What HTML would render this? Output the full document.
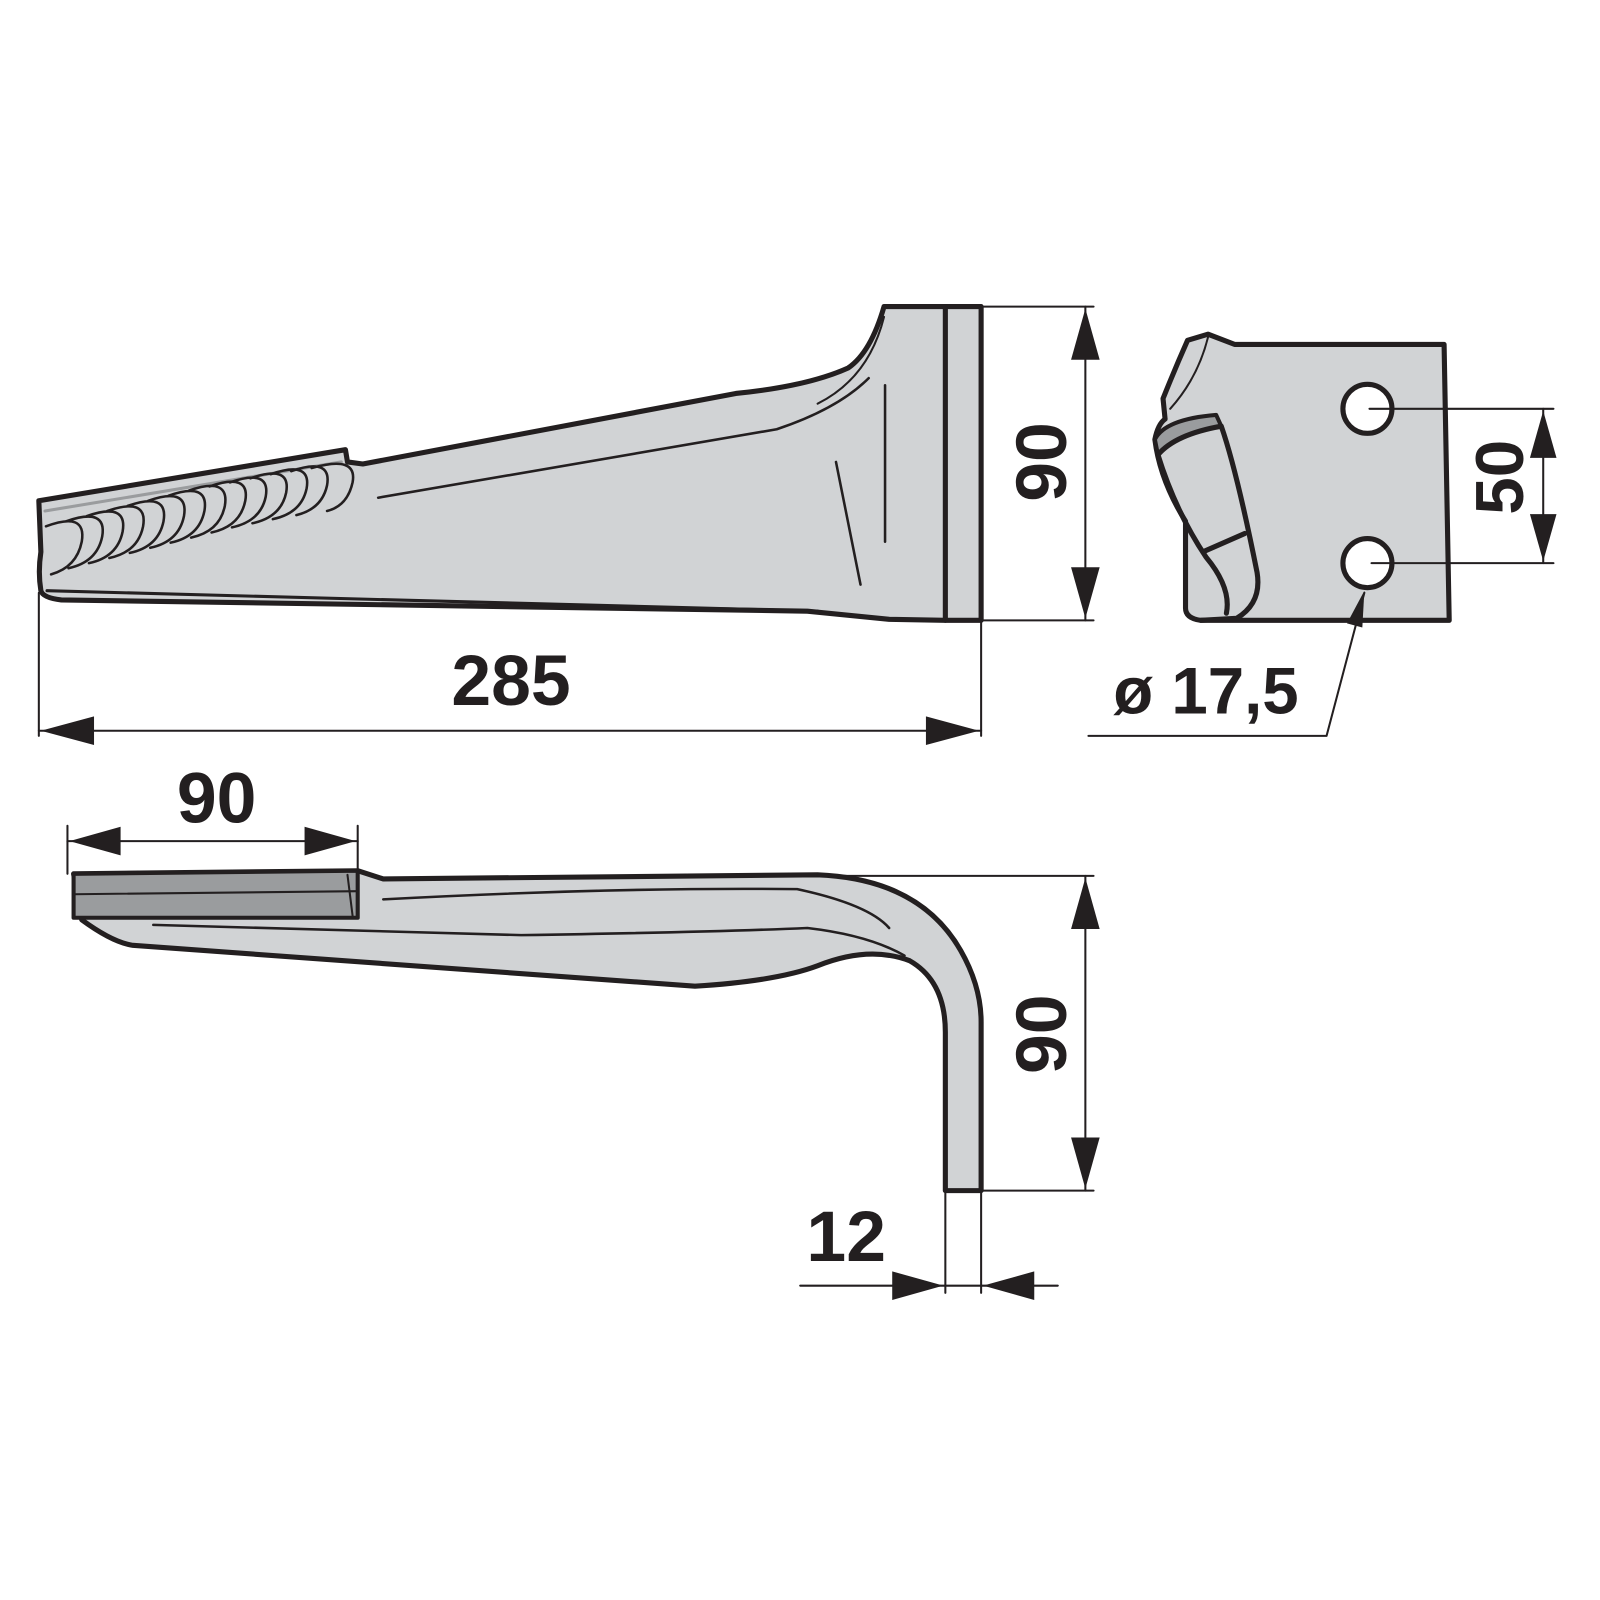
<!DOCTYPE html>
<html><head><meta charset="utf-8"><style>html,body{margin:0;padding:0;background:#fff}svg{display:block}</style></head>
<body>
<svg width="1600" height="1600" viewBox="0 0 1600 1600" xmlns="http://www.w3.org/2000/svg">
<g transform="scale(1.022)" stroke="#231f20" stroke-linejoin="round" stroke-linecap="round" font-family="'Liberation Sans',sans-serif" font-weight="bold">
<!-- top blade -->
<path d="M38,490 L338,440 L340,452 L355,454 L720,385 Q790,378 830,360 Q852,345 865,300 L960,300 L960,607 L925,607 L870,606 Q810,600 790,598 L60,587 Q42,585 40,578 Q37,560 40,540 Z" fill="#d1d3d5" stroke-width="5"/>
<line x1="925" y1="300" x2="925" y2="607" stroke-width="5"/>
<path d="M44,500 L334,452" fill="none" stroke="#9a9c9e" stroke-width="3"/>
<path d="M46,578 L800,598" fill="none" stroke-width="3"/>
<path d="M800,395 Q850,370 865,310" fill="none" stroke-width="2"/>
<path d="M370,487 L760,420 Q820,400 850,370" fill="none" stroke-width="2.5"/>
<line x1="866" y1="377" x2="866" y2="530" stroke-width="2.5"/>
<line x1="818" y1="452" x2="842" y2="572" stroke-width="2.5"/>
<g fill="none" stroke-width="2.5">
<path d="M45,515 Q85,500 80,530 Q75,555 50,562"/>
<path d="M65,510 Q105,496 100,525 Q95,550 67,556"/>
<path d="M85,505 Q125,491 120,520 Q115,545 87,551"/>
<path d="M105,500 Q145,486 140,515 Q135,540 107,546"/>
<path d="M125,495 Q165,481 160,510 Q155,535 127,541"/>
<path d="M145,490 Q185,476 180,505 Q175,530 147,536"/>
<path d="M165,485 Q205,471 200,500 Q195,525 167,531"/>
<path d="M185,480 Q225,466 220,495 Q215,520 187,526"/>
<path d="M205,476 Q245,462 240,490 Q235,515 207,521"/>
<path d="M225,472 Q265,458 260,486 Q255,510 227,516"/>
<path d="M245,468 Q285,454 280,482 Q275,506 247,512"/>
<path d="M265,464 Q305,450 300,478 Q295,502 267,508"/>
<path d="M285,461 Q325,447 320,475 Q315,498 290,504"/>
<path d="M305,458 Q350,445 345,472 Q340,495 320,500"/>
</g>
<!-- dims top -->
<g stroke-width="2" fill="none">
<line x1="960" y1="300" x2="1070" y2="300"/><line x1="960" y1="607" x2="1070" y2="607"/>
<line x1="1062" y1="300" x2="1062" y2="607"/>
<line x1="38" y1="580" x2="38" y2="720"/><line x1="960" y1="607" x2="960" y2="720"/>
<line x1="38" y1="715" x2="960" y2="715"/>
</g>
<g fill="#231f20" stroke="none">
<polygon points="1062,302 1048,352 1076,352"/><polygon points="1062,605 1048,555 1076,555"/>
<polygon points="40,715 92,701 92,729"/><polygon points="958,715 906,701 906,729"/>
</g>
<text x="500" y="690" font-size="70" text-anchor="middle" fill="#231f20" stroke="none">285</text>
<text transform="translate(1043,452) rotate(-90)" font-size="70" text-anchor="middle" fill="#231f20" stroke="none">90</text>
<!-- side view -->
<path d="M1208,337 L1413,337 L1418,607 L1175,607 Q1160,605 1160,595 L1160,510 Q1135,470 1130,430 Q1133,415 1140,410 L1138,390 Q1150,360 1162,333 L1182,327 Z" fill="#d1d3d5" stroke-width="5"/>
<path d="M1182,330 Q1172,370 1145,400" fill="none" stroke-width="2"/>
<path d="M1130,430 Q1140,410 1190,406 L1195,417 Q1150,425 1133,445 Z" fill="#9a9c9e" stroke-width="4"/>
<path d="M1133,445 Q1150,425 1195,417 Q1210,460 1230,560 Q1235,590 1210,605 L1175,607" fill="none" stroke-width="5"/>
<path d="M1133,445 Q1150,500 1180,545 Q1205,575 1200,600" fill="none" stroke-width="5"/>
<line x1="1177" y1="540" x2="1218" y2="522" stroke-width="5"/>
<circle cx="1338" cy="400" r="24" fill="#fff" stroke-width="5"/>
<circle cx="1338" cy="551" r="24" fill="#fff" stroke-width="5"/>
<g stroke-width="2" fill="none">
<line x1="1340" y1="400" x2="1520" y2="400"/><line x1="1342" y1="551" x2="1520" y2="551"/>
<line x1="1510" y1="400" x2="1510" y2="551"/>
<polyline points="1335,580 1298,720 1065,720"/>
</g>
<g fill="#231f20" stroke="none">
<polygon points="1510,402 1497,448 1523,448"/><polygon points="1510,549 1497,503 1523,503"/>
<polygon points="1335,578 1318,610 1333,614"/>
</g>
<text transform="translate(1490,467) rotate(-90)" font-size="66" text-anchor="middle" fill="#231f20" stroke="none">50</text>
<text x="1180" y="698" font-size="64" text-anchor="middle" fill="#231f20" stroke="none">ø 17,5</text>
<!-- bottom blade -->
<path d="M72,855 L350,852 L375,860 Q600,858 800,856 Q900,860 940,930 Q960,965 960,1000 L960,1165 L925,1165 L925,1010 Q925,960 890,940 Q850,925 800,945 Q760,960 680,965 L130,925 Q110,922 80,900 Z" fill="#d1d3d5" stroke-width="5"/>
<path d="M72,855 L350,852 L350,898 L72,898 Z" fill="#9a9c9e" stroke-width="4"/>
<line x1="72" y1="875" x2="350" y2="872" stroke-width="2"/>
<line x1="340" y1="856" x2="345" y2="896" stroke-width="2"/>
<path d="M375,880 Q600,868 780,870 Q850,885 870,908" fill="none" stroke-width="2.5"/>
<path d="M150,905 L510,915 Q700,912 790,908 Q850,915 885,935" fill="none" stroke-width="2.5"/>
<g stroke-width="2" fill="none">
<line x1="66" y1="808" x2="66" y2="855"/><line x1="350" y1="808" x2="350" y2="852"/>
<line x1="66" y1="823" x2="350" y2="823"/>
<line x1="800" y1="857" x2="1070" y2="857"/><line x1="960" y1="1165" x2="1070" y2="1165"/>
<line x1="1062" y1="857" x2="1062" y2="1165"/>
<line x1="925" y1="1165" x2="925" y2="1265"/><line x1="960" y1="1165" x2="960" y2="1265"/>
<line x1="783" y1="1258" x2="1035" y2="1258"/>
</g>
<g fill="#231f20" stroke="none">
<polygon points="68,823 118,809 118,837"/><polygon points="348,823 298,809 298,837"/>
<polygon points="1062,859 1048,909 1076,909"/><polygon points="1062,1163 1048,1113 1076,1113"/>
<polygon points="923,1258 873,1244 873,1272"/><polygon points="962,1258 1012,1244 1012,1272"/>
</g>
<text x="212" y="805" font-size="70" text-anchor="middle" fill="#231f20" stroke="none">90</text>
<text transform="translate(1043,1012) rotate(-90)" font-size="70" text-anchor="middle" fill="#231f20" stroke="none">90</text>
<text x="828" y="1234" font-size="70" text-anchor="middle" fill="#231f20" stroke="none">12</text>
</g>
</svg>
</body></html>
